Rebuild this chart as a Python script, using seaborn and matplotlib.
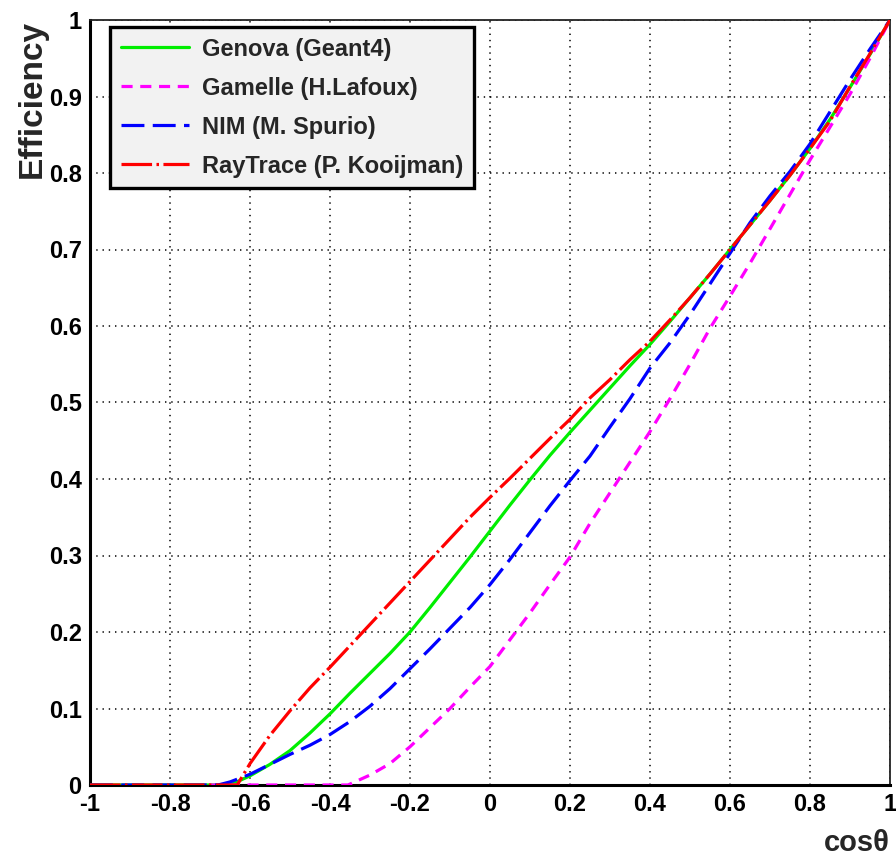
import numpy as np
import pandas as pd
import matplotlib
matplotlib.use("Agg")
import matplotlib.pyplot as plt
from matplotlib.ticker import MultipleLocator
import seaborn as sns

# ---- data -------------------------------------------------------------
cos_grid = [-0.60, -0.55, -0.50, -0.45, -0.40, -0.35, -0.30, -0.25, -0.20,
            -0.15, -0.10, -0.05, 0.00, 0.05, 0.10, 0.15, 0.20, 0.25, 0.30,
            0.35, 0.40, 0.45, 0.50, 0.55, 0.60, 0.65, 0.70, 0.75, 0.80,
            0.85, 0.90, 0.95, 1.00]

genova_x = [-1.0, -0.65] + cos_grid
genova_y = [0.0, 0.0,
            0.012, 0.027, 0.045, 0.068, 0.093, 0.120, 0.146, 0.172, 0.200,
            0.232, 0.265, 0.298, 0.332, 0.366, 0.399, 0.431, 0.461, 0.490,
            0.519, 0.548, 0.576, 0.606, 0.637, 0.668, 0.700, 0.732, 0.764,
            0.797, 0.832, 0.870, 0.912, 0.955, 1.000]

gamelle_x = [-0.70, -0.355, -0.30, -0.25, -0.20, -0.15, -0.10, -0.05, 0.00,
             0.05, 0.10, 0.15, 0.20, 0.25, 0.30, 0.35, 0.40, 0.45, 0.50,
             0.55, 0.60, 0.65, 0.70, 0.75, 0.80, 0.85, 0.90, 0.95, 1.00]
gamelle_y = [0.0, 0.0, 0.013, 0.028, 0.050, 0.075, 0.100, 0.128, 0.155,
             0.190, 0.225, 0.262, 0.298, 0.342, 0.382, 0.422, 0.462, 0.505,
             0.550, 0.597, 0.639, 0.682, 0.727, 0.772, 0.817, 0.860, 0.903,
             0.950, 1.000]

nim_x = [-1.0, -0.68, -0.65] + cos_grid
nim_y = [0.0, 0.0, 0.004,
         0.014, 0.027, 0.040, 0.052, 0.066, 0.083, 0.103, 0.126, 0.152,
         0.178, 0.205, 0.232, 0.262, 0.295, 0.330, 0.365, 0.398, 0.430,
         0.468, 0.505, 0.545, 0.578, 0.615, 0.655, 0.695, 0.735, 0.770,
         0.802, 0.838, 0.880, 0.922, 0.962, 1.000]

raytrace_x = [-1.0, -0.632] + cos_grid
raytrace_y = [0.0, 0.0,
              0.028, 0.065, 0.097, 0.127, 0.154, 0.182, 0.210, 0.238, 0.266,
              0.294, 0.322, 0.350, 0.376, 0.401, 0.427, 0.453, 0.478, 0.506,
              0.530, 0.556, 0.580, 0.608, 0.637, 0.668, 0.700, 0.732, 0.764,
              0.797, 0.832, 0.868, 0.913, 0.956, 1.000]

labels = ["Genova (Geant4)", "Gamelle (H.Lafoux)", "NIM (M. Spurio)",
          "RayTrace (P. Kooijman)"]
colors = ["#00ee00", "#ff00ff", "#0000ff", "#ff0000"]
# dash patterns in points: solid, short dash, long dash, long dash-dot
dash_styles = [None, (8.0, 5.5), (16.5, 6.0), (22.0, 3.2, 1.8, 3.2)]

series = [(genova_x, genova_y), (gamelle_x, gamelle_y),
          (nim_x, nim_y), (raytrace_x, raytrace_y)]

# ---- styling ----------------------------------------------------------
sns.set_theme(style="white")
plt.rcParams["font.family"] = ["Liberation Sans", "DejaVu Sans"]
plt.rcParams["font.weight"] = "bold"
plt.rcParams["lines.scale_dashes"] = False

fig = plt.figure(figsize=(8.96, 8.61), dpi=100)
ax = fig.add_axes([90 / 896, 76 / 861, 800 / 896, 765 / 861])

for (xs, ys), lab, col, dash in zip(series, labels, colors, dash_styles):
    df = pd.DataFrame({"cos": xs, "eff": ys})
    sns.lineplot(data=df, x="cos", y="eff", ax=ax, color=col, linewidth=2.3,
                 label=lab, estimator=None, sort=False)
    line = ax.get_lines()[-1]
    line.set_zorder(3)
    if dash is not None:
        line.set_dashes(dash)

ax.set_xlim(-1, 1)
ax.set_ylim(0, 1)

ax.xaxis.set_major_locator(MultipleLocator(0.2))
ax.xaxis.set_minor_locator(MultipleLocator(0.05))
ax.yaxis.set_major_locator(MultipleLocator(0.1))
ax.yaxis.set_minor_locator(MultipleLocator(0.02))


def fmt(v, _):
    s = f"{v:.1f}"
    if s == "-1.0":
        return "-1"
    if s == "1.0":
        return "1"
    if s in ("0.0", "-0.0"):
        return "0"
    return s


ax.xaxis.set_major_formatter(plt.FuncFormatter(fmt))
ax.yaxis.set_major_formatter(plt.FuncFormatter(fmt))

ax.tick_params(axis="both", which="major", direction="in", length=16,
               width=2, color="black", labelsize=17, pad=6,
               top=False, right=False, labelcolor="black")
ax.tick_params(axis="both", which="minor", direction="in", length=8.5,
               width=2, color="black", top=False, right=False)
ax.tick_params(axis="x", which="major", length=14)
ax.tick_params(axis="x", which="minor", length=7.5)
for lab in ax.get_xticklabels() + ax.get_yticklabels():
    lab.set_fontweight("bold")

ax.grid(True, which="major", color="black", linestyle=(0, (1, 3.5)),
        linewidth=1.1)
ax.set_axisbelow(True)

for side in ("left", "bottom"):
    ax.spines[side].set_linewidth(2.2)
    ax.spines[side].set_color("black")
for side in ("top", "right"):
    ax.spines[side].set_linewidth(1.3)
    ax.spines[side].set_color("#222222")

ax.set_ylabel("Efficiency", fontsize=24, fontweight="bold", loc="top")
ax.yaxis.set_label_coords(-0.053, 1.0)
ax.set_xlabel("cosθ", fontsize=21, fontweight="bold", loc="right")
ax.xaxis.set_label_coords(1.0, -0.058)

leg = ax.legend(loc="upper left", bbox_to_anchor=(0.025, 0.991),
                prop={"weight": "bold", "size": 17},
                frameon=True, fancybox=False, framealpha=1.0,
                facecolor="#f2f2f2", edgecolor="black",
                handlelength=2.9, handletextpad=0.55, labelspacing=0.68,
                borderpad=0.45, borderaxespad=0.0)
leg.get_frame().set_linewidth(2.4)
leg.set_zorder(5)

fig.savefig("out.png", dpi=100, facecolor="white")
